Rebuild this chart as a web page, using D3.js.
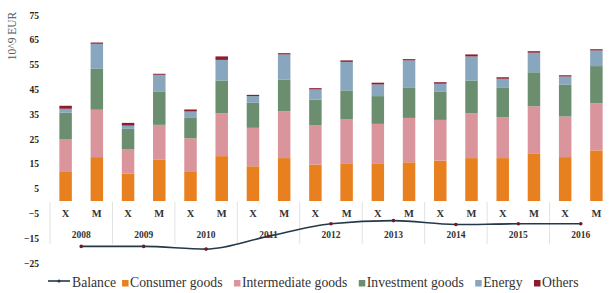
<!DOCTYPE html>
<html>
<head>
<meta charset="utf-8">
<script src="https://cdn.jsdelivr.net/npm/d3@7"></script>
<style>
  body { margin: 0; background: #fff; }
  text { font-family: "Liberation Serif", "Times New Roman", serif; }
</style>
</head>
<body>
<script>
// Data (10^9 EUR)
var years = ["2008", "2009", "2010", "2011", "2012", "2013", "2014", "2015", "2016"];
var flows = ["X", "M"];
var seriesNames = ["Consumer goods", "Intermediate goods", "Investment goods", "Energy", "Others"];
// one value per bar, order: 2008 X, 2008 M, 2009 X, 2009 M, ...
var consumer     = [12.0, 17.7, 11.0, 16.6, 12.0, 18.1, 14.0, 17.3, 14.7, 15.2, 15.2, 15.6, 16.3, 17.3, 17.3, 19.0, 17.7, 20.4];
var intermediate = [12.8, 19.1, 9.8, 14.1, 13.3, 17.3, 15.5, 18.9, 15.9, 17.7, 15.9, 17.9, 16.4, 18.1, 16.5, 19.2, 16.4, 19.0];
var investment   = [10.8, 16.5, 8.3, 13.5, 8.2, 13.2, 10.1, 12.8, 10.3, 11.7, 11.2, 12.1, 11.5, 13.2, 11.8, 13.7, 12.9, 15.0];
var energy       = [1.6, 10.1, 1.3, 6.7, 2.6, 8.3, 2.7, 10.1, 4.1, 11.5, 4.7, 11.1, 3.1, 9.7, 3.7, 7.9, 3.2, 6.3];
var others       = [1.2, 0.5, 1.1, 0.4, 0.8, 1.4, 0.5, 0.5, 0.5, 0.6, 0.7, 0.5, 0.6, 0.8, 0.6, 0.6, 0.5, 0.5];
var balance      = [-18.3, -18.3, -19.4, -14.2, -9.2, -7.9, -9.5, -9.2, -9.2];
var yTicks = [-25, -15, -5, 5, 15, 25, 35, 45, 55, 65, 75];

var colors = ["#e8801f", "#d9959b", "#6b8e6f", "#88a6bd", "#8c1c2e"];

var W = 611, H = 293;
var svg = d3.select("body").append("svg")
    .attr("width", W)
    .attr("height", H);

// build rows for the stack
var rows = [];
years.forEach(function (yr, i) {
  flows.forEach(function (f, j) {
    var k = i * 2 + j;
    rows.push({
      key: yr + f, year: yr, flow: f,
      "Consumer goods": consumer[k],
      "Intermediate goods": intermediate[k],
      "Investment goods": investment[k],
      "Energy": energy[k],
      "Others": others[k]
    });
  });
});

// Scales
var x = d3.scaleBand()
    .domain(rows.map(d => d.key))
    .range([50, 612])
    .paddingInner(0.6)
    .paddingOuter(0.3);

var xYear = d3.scaleBand()
    .domain(years)
    .range([50, 612]);

var y = d3.scaleLinear()
    .domain([-25, 75])
    .range([263, 15]);

var stack = d3.stack().keys(seriesNames);
var stacked = stack(rows);

// Group separators
svg.append("g")
  .selectAll("line")
  .data(years.concat(["end"]))
  .join("line")
    .attr("x1", (d, i) => i < years.length ? xYear(d) : xYear.range()[1] - 0.5)
    .attr("x2", (d, i) => i < years.length ? xYear(d) : xYear.range()[1] - 0.5)
    .attr("y1", y(0) + 1)
    .attr("y2", y(-17.5))
    .attr("stroke", "#e2e2e2")
    .attr("stroke-width", 1);

// Bars
svg.append("g")
  .selectAll("g")
  .data(stacked)
  .join("g")
    .attr("fill", (d, i) => colors[i])
  .selectAll("rect")
  .data(d => d)
  .join("rect")
    .attr("x", d => x(d.data.key))
    .attr("width", x.bandwidth())
    .attr("y", d => y(d[1]))
    .attr("height", d => y(d[0]) - y(d[1]));

// Y axis (labels only)
var yAxis = d3.axisLeft(y).tickValues(yTicks).tickSize(0).tickPadding(0);
var yg = svg.append("g")
    .attr("transform", "translate(39,0)")
    .call(yAxis);
yg.select(".domain").remove();
yg.selectAll("text")
    .attr("font-family", "Liberation Serif, serif")
    .attr("font-size", 9.5)
    .attr("font-weight", "bold")
    .attr("fill", "#222");

// Y axis title
svg.append("text")
    .attr("transform", "translate(16,36) rotate(-90)")
    .attr("text-anchor", "middle")
    .attr("font-size", 11.5)
    .attr("fill", "#555")
    .text("10^9 EUR");

// X / M labels
svg.append("g")
  .selectAll("text")
  .data(rows)
  .join("text")
    .attr("x", d => x(d.key) + x.bandwidth() / 2)
    .attr("y", 217)
    .attr("text-anchor", "middle")
    .attr("font-size", 10.5)
    .attr("font-weight", "bold")
    .attr("fill", "#333")
    .text(d => d.flow);

// Year labels
svg.append("g")
  .selectAll("text")
  .data(years)
  .join("text")
    .attr("x", d => xYear(d) + xYear.bandwidth() / 2)
    .attr("y", 238)
    .attr("text-anchor", "middle")
    .attr("font-size", 9.5)
    .attr("font-weight", "bold")
    .attr("fill", "#333")
    .text(d => d);

// Balance line
var line = d3.line()
    .x((d, i) => xYear(years[i]) + xYear.bandwidth() / 2)
    .y(d => y(d))
    .curve(d3.curveMonotoneX);

svg.append("path")
    .datum(balance)
    .attr("fill", "none")
    .attr("stroke", "#23394a")
    .attr("stroke-width", 1.6)
    .attr("d", line);

svg.append("g")
  .selectAll("circle")
  .data(balance)
  .join("circle")
    .attr("cx", (d, i) => xYear(years[i]) + xYear.bandwidth() / 2)
    .attr("cy", d => y(d))
    .attr("r", 1.8)
    .attr("fill", "#6e1a2c");

// Legend
var legend = svg.append("g").attr("font-size", 13.7).attr("fill", "#333");
var lx = 48, ly = 287;
legend.append("line")
    .attr("x1", lx).attr("x2", lx + 22)
    .attr("y1", ly - 6).attr("y2", ly - 6)
    .attr("stroke", "#23394a").attr("stroke-width", 1.6);
legend.append("circle")
    .attr("cx", lx + 11).attr("cy", ly - 6).attr("r", 1.6)
    .attr("fill", "#23394a");
var t = legend.append("text").attr("x", lx + 24).attr("y", ly).text("Balance");
lx = lx + 24 + t.node().getComputedTextLength() + 6;
seriesNames.forEach(function (name, i) {
  legend.append("rect")
      .attr("x", lx).attr("y", ly - 7)
      .attr("width", 6.5).attr("height", 6.5)
      .attr("fill", colors[i]);
  var tt = legend.append("text").attr("x", lx + 8).attr("y", ly).text(name);
  lx = lx + 8 + tt.node().getComputedTextLength() + 11.5;
});
</script>
</body>
</html>
